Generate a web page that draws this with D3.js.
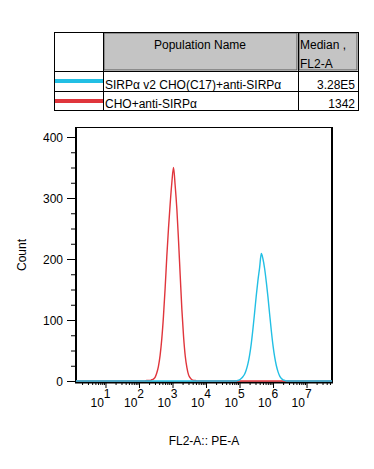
<!DOCTYPE html>
<html><head><meta charset="utf-8">
<script src="https://cdn.jsdelivr.net/npm/d3@7"></script>
<style>
html,body{margin:0;padding:0;background:#fff;}
svg{display:block;font-family:"Liberation Sans",Arial,sans-serif;}
</style></head>
<body>
<svg id="c" width="374" height="469"></svg>
<script>
// ---- data ----
const seriesNames = ["SIRPα v2 CHO(C17)+anti-SIRPα", "CHO+anti-SIRPα"];
const seriesMedians = ["3.28E5", "1342"];
const seriesColors = ["#22bfe4", "#e0353c"];
const tableHeaders = ["Population Name", "Median ,", "FL2-A"];
const yTicks = [0, 100, 200, 300, 400];
const xDecades = [1, 2, 3, 4, 5, 6, 7];
const xLabel = "FL2-A:: PE-A";
const yLabel = "Count";

// bin positions (log10 of FL2-A) and counts
const cyanLog = [0.12, 4.90, 4.95, 5.00, 5.05, 5.10, 5.15, 5.20, 5.25, 5.30, 5.35, 5.40, 5.45, 5.50, 5.55, 5.60, 5.65,
  5.70, 5.75, 5.80, 5.85, 5.90, 5.95, 6.00, 6.05, 6.10, 6.15, 6.20, 6.25, 6.30, 6.35, 6.40, 7.76];
const cyanCount = [0, 0, 1, 2, 4, 7, 11, 18, 28, 42, 61, 85, 112, 140, 165, 186, 209,
  200, 184, 162, 137, 109, 82, 58, 39, 25, 15, 8, 4, 2, 1, 0, 0];
const redLog = [0.12, 2.18, 2.23, 2.28, 2.33, 2.38, 2.43, 2.48, 2.53, 2.58, 2.63, 2.68, 2.73, 2.78, 2.83, 2.88, 2.93, 2.98, 3.03,
  3.08, 3.13, 3.18, 3.23, 3.28, 3.33, 3.38, 3.43, 3.48, 3.53, 3.58, 3.63, 3.68, 3.73, 7.76];
const redCount = [0, 0, 1, 1, 1, 2, 3, 6, 13, 24, 42, 69, 106, 152, 204, 250, 290, 325, 350,
  320, 282, 230, 173, 117, 73, 41, 22, 10, 5, 2, 1, 1, 0, 0];

// ---- layout ----
const svg = d3.select("#c");
const L = 76, R = 332, T = 127, B = 381;
const x = d3.scaleLog().domain([Math.pow(10, 0.12), Math.pow(10, 7.76)]).range([L, R]);
const y = d3.scaleLinear().domain([0, 416.4]).range([B, T]);

// ---- legend table ----
const tb = {x0: 54, x1: 103, x2: 298, x3: 358, y0: 32, y1: 71, y2: 91, y3: 110};
const lg = svg.append("g");
lg.append("rect").attr("x", tb.x1 + 1).attr("y", tb.y0 + 1).attr("width", tb.x2 - tb.x1 - 2).attr("height", tb.y1 - tb.y0 - 2)
  .attr("fill", "#c4c4c4").attr("stroke", "#555").attr("stroke-width", 1);
lg.append("rect").attr("x", tb.x2 + 1).attr("y", tb.y0 + 1).attr("width", tb.x3 - tb.x2 - 2).attr("height", tb.y1 - tb.y0 - 2)
  .attr("fill", "#c4c4c4").attr("stroke", "#555").attr("stroke-width", 1);
lg.append("rect").attr("x", tb.x0 + 0.5).attr("y", tb.y0 + 0.5).attr("width", tb.x3 - tb.x0).attr("height", tb.y3 - tb.y0)
  .attr("fill", "none").attr("stroke", "#000").attr("stroke-width", 1);
[tb.y1, tb.y2].forEach(v => lg.append("line").attr("x1", tb.x0).attr("x2", tb.x3).attr("y1", v + 0.5).attr("y2", v + 0.5).attr("stroke", "#000"));
[tb.x1, tb.x2].forEach(v => lg.append("line").attr("x1", v + 0.5).attr("x2", v + 0.5).attr("y1", tb.y0).attr("y2", tb.y3).attr("stroke", "#000"));
lg.append("text").attr("x", 200).attr("y", 49).attr("text-anchor", "middle").attr("font-size", 12).text(tableHeaders[0]);
lg.append("text").attr("x", 300).attr("y", 49).attr("font-size", 12).text(tableHeaders[1]);
lg.append("text").attr("x", 300).attr("y", 68).attr("font-size", 12).text(tableHeaders[2]);
const rowY = [81, 101], rowBase = [88.5, 107.5];
seriesNames.forEach((n, i) => {
  lg.append("line").attr("x1", tb.x0 + 1).attr("x2", tb.x1).attr("y1", rowY[i]).attr("y2", rowY[i])
    .attr("stroke", seriesColors[i]).attr("stroke-width", 4);
  lg.append("text").attr("x", 105).attr("y", rowBase[i]).attr("font-size", 12).text(n);
  lg.append("text").attr("x", 355).attr("y", rowBase[i]).attr("text-anchor", "end").attr("font-size", 12).text(seriesMedians[i]);
});

// ---- axes ----
const yMinor = d3.range(0, 416, 25);
const yAx = svg.append("g").attr("transform", `translate(${L - 1},0)`)
  .call(d3.axisLeft(y).tickValues(yMinor).tickSize(4).tickFormat(""));
yAx.selectAll(".tick line").attr("stroke", "#000").attr("x2", d => d % 100 === 0 ? -8 : -4);
yAx.select(".domain").remove();
yTicks.forEach(v => svg.append("text").attr("x", 63).attr("y", y(v) + 4.5).attr("text-anchor", "end")
  .attr("font-size", 12).text(v));

const xt = x.ticks().filter(v => v >= x.domain()[0] && v <= x.domain()[1]);
const xAx = svg.append("g").attr("transform", `translate(0,${B + 1})`)
  .call(d3.axisBottom(x).tickValues(xt).tickSize(3).tickFormat(""));
xAx.selectAll(".tick line").attr("stroke", "#000").attr("y2", d => {
  const e = Math.log10(d); return Math.abs(e - Math.round(e)) < 1e-6 ? 6 : 3; });
xAx.select(".domain").remove();
xDecades.forEach(k => {
  const px = x(Math.pow(10, k));
  const t = svg.append("text").attr("x", px - 15).attr("y", 407).attr("font-size", 12);
  t.append("tspan").text("10");
  t.append("tspan").attr("dy", -9).text(k);
});

svg.append("text").attr("x", (L + R) / 2).attr("y", 445).attr("text-anchor", "middle").attr("font-size", 12).text(xLabel);
svg.append("text").attr("transform", `translate(26,255) rotate(-90)`).attr("text-anchor", "middle").attr("font-size", 12).text(yLabel);

// ---- curves ----
const line = d3.line().x(d => x(Math.pow(10, d[0]))).y(d => y(d[1])).curve(d3.curveMonotoneX);
const redPts = redLog.map((v, i) => [v, redCount[i]]);
const cyanPts = cyanLog.map((v, i) => [v, cyanCount[i]]);

// frame
svg.append("line").attr("x1", L).attr("x2", L).attr("y1", T).attr("y2", B + 2).attr("stroke", "#000").attr("stroke-width", 2);
svg.append("line").attr("x1", R).attr("x2", R).attr("y1", T).attr("y2", B + 2).attr("stroke", "#000").attr("stroke-width", 2);
svg.append("line").attr("x1", L).attr("x2", R).attr("y1", T + 0.5).attr("y2", T + 0.5).attr("stroke", "#000").attr("stroke-width", 1);
svg.append("line").attr("x1", L - 1).attr("x2", R + 1).attr("y1", B + 1.5).attr("y2", B + 1.5).attr("stroke", "#000").attr("stroke-width", 2);

svg.append("path").datum(redPts).attr("d", line).attr("fill", "none").attr("stroke", seriesColors[1]).attr("stroke-width", 1.4);
svg.append("path").datum(cyanPts).attr("d", line).attr("fill", "none").attr("stroke", seriesColors[0]).attr("stroke-width", 1.4);
</script>
</body></html>
